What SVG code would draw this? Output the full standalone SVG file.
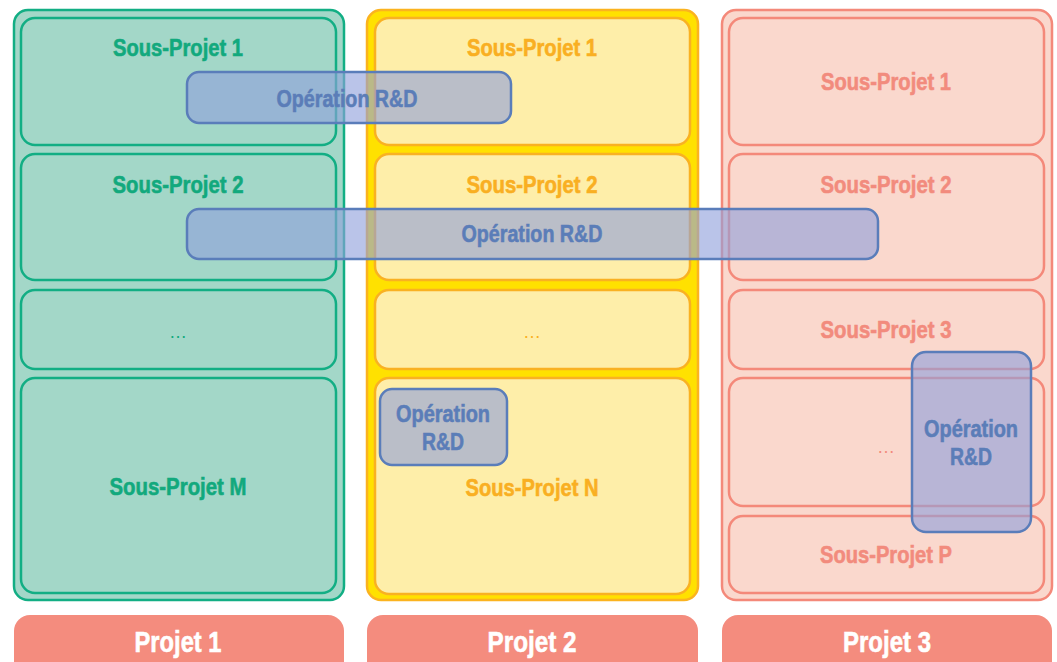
<svg xmlns="http://www.w3.org/2000/svg" width="1057" height="662" viewBox="0 0 1057 662">
<style>
text{font-family:"Liberation Sans",Arial,sans-serif;font-weight:bold;text-anchor:middle;stroke-width:0.6}
.lbl{font-size:24px}
.g-out{fill:#A3D7C8;stroke:#12AE84;stroke-width:2.5}
.g-in{fill:#A3D7C8;stroke:#12AE84;stroke-width:2.5}
.g-t{fill:#12A97D;stroke:#12A97D}
.y-out{fill:#FFE100;stroke:#FBB31F;stroke-width:2.5}
.y-in{fill:#FEEEA9;stroke:#F9B122;stroke-width:2.5}
.y-t{fill:#F9AF22;stroke:#F9AF22}
.r-out{fill:#FAD8CD;stroke:#F4897A;stroke-width:2.5}
.r-in{fill:#FAD8CD;stroke:#F4897A;stroke-width:2.5}
.r-t{fill:#F28B7D;stroke:#F28B7D}
.dots{font-size:18px;font-weight:normal;stroke:none}
.op{fill:#8FA0DC;fill-opacity:0.62;stroke:#5A7DBA;stroke-width:2.5}
.op-t{fill:#5B7DB8;stroke:#5B7DB8;font-size:24px}
.bar{fill:#F48C7E}
.bar-t{fill:#FFFFFF;stroke:#FFFFFF;font-size:29px}
</style>

<g id="projet1">
  <rect class="g-out" x="14" y="10" width="330" height="590" rx="14"/>
  <g id="p1-sp1"><rect class="g-in" x="21" y="18" width="315" height="127" rx="14"/>
    <text class="lbl g-t" x="178" y="56" textLength="130" lengthAdjust="spacingAndGlyphs">Sous-Projet 1</text></g>
  <g id="p1-sp2"><rect class="g-in" x="21" y="154" width="315" height="126" rx="14"/>
    <text class="lbl g-t" x="178" y="193" textLength="131" lengthAdjust="spacingAndGlyphs">Sous-Projet 2</text></g>
  <g id="p1-dots"><rect class="g-in" x="21" y="290" width="315" height="79" rx="14"/>
    <text class="dots g-t" x="178" y="338">…</text></g>
  <g id="p1-spm"><rect class="g-in" x="21" y="378" width="315" height="215" rx="14"/>
    <text class="lbl g-t" x="178" y="495" textLength="137" lengthAdjust="spacingAndGlyphs">Sous-Projet M</text></g>
</g>

<g id="projet2">
  <rect class="y-out" x="367" y="10" width="331" height="590" rx="14"/>
  <g id="p2-sp1"><rect class="y-in" x="375" y="18" width="315" height="127" rx="14"/>
    <text class="lbl y-t" x="532" y="56" textLength="130" lengthAdjust="spacingAndGlyphs">Sous-Projet 1</text></g>
  <g id="p2-sp2"><rect class="y-in" x="375" y="154" width="315" height="126" rx="14"/>
    <text class="lbl y-t" x="532" y="193" textLength="131" lengthAdjust="spacingAndGlyphs">Sous-Projet 2</text></g>
  <g id="p2-dots"><rect class="y-in" x="375" y="290" width="315" height="79" rx="14"/>
    <text class="dots y-t" x="532" y="338">…</text></g>
  <g id="p2-spn"><rect class="y-in" x="375" y="378" width="315" height="216" rx="14"/>
    <text class="lbl y-t" x="532" y="496" textLength="133" lengthAdjust="spacingAndGlyphs">Sous-Projet N</text></g>
</g>

<g id="projet3">
  <rect class="r-out" x="722" y="10" width="330" height="590" rx="14"/>
  <g id="p3-sp1"><rect class="r-in" x="729" y="18" width="315" height="127" rx="14"/>
    <text class="lbl r-t" x="886" y="90" textLength="130" lengthAdjust="spacingAndGlyphs">Sous-Projet 1</text></g>
  <g id="p3-sp2"><rect class="r-in" x="729" y="154" width="315" height="126" rx="14"/>
    <text class="lbl r-t" x="886" y="193" textLength="131" lengthAdjust="spacingAndGlyphs">Sous-Projet 2</text></g>
  <g id="p3-sp3"><rect class="r-in" x="729" y="290" width="315" height="79" rx="14"/>
    <text class="lbl r-t" x="886" y="338" textLength="131" lengthAdjust="spacingAndGlyphs">Sous-Projet 3</text></g>
  <g id="p3-dots"><rect class="r-in" x="729" y="378" width="315" height="128" rx="14"/>
    <text class="dots r-t" x="886" y="453">…</text></g>
  <g id="p3-spp"><rect class="r-in" x="729" y="516" width="315" height="77" rx="14"/>
    <text class="lbl r-t" x="886" y="563" textLength="132" lengthAdjust="spacingAndGlyphs">Sous-Projet P</text></g>
</g>

<g id="op1"><rect class="op" x="187" y="72" width="324" height="51" rx="12"/>
  <text class="op-t" x="347" y="107" textLength="141" lengthAdjust="spacingAndGlyphs">Opération R&amp;D</text></g>
<g id="op2"><rect class="op" x="187" y="209" width="691" height="50" rx="12"/>
  <text class="op-t" x="532" y="242" textLength="141" lengthAdjust="spacingAndGlyphs">Opération R&amp;D</text></g>
<g id="op3"><rect class="op" x="380" y="389" width="127" height="76" rx="12"/>
  <text class="op-t" x="443" y="422" textLength="94" lengthAdjust="spacingAndGlyphs">Opération</text>
  <text class="op-t" x="443" y="450" textLength="42" lengthAdjust="spacingAndGlyphs">R&amp;D</text></g>
<g id="op4"><rect class="op" x="912" y="352" width="119" height="180" rx="14"/>
  <text class="op-t" x="971" y="437" textLength="94" lengthAdjust="spacingAndGlyphs">Opération</text>
  <text class="op-t" x="971" y="465" textLength="42" lengthAdjust="spacingAndGlyphs">R&amp;D</text></g>

<g id="bar1"><rect class="bar" x="14" y="615" width="330" height="70" rx="16"/>
  <text class="bar-t" x="178" y="652" textLength="87" lengthAdjust="spacingAndGlyphs">Projet 1</text></g>
<g id="bar2"><rect class="bar" x="367" y="615" width="331" height="70" rx="16"/>
  <text class="bar-t" x="532" y="652" textLength="89" lengthAdjust="spacingAndGlyphs">Projet 2</text></g>
<g id="bar3"><rect class="bar" x="722" y="615" width="330" height="70" rx="16"/>
  <text class="bar-t" x="887" y="652" textLength="88" lengthAdjust="spacingAndGlyphs">Projet 3</text></g>

<g id="connectors"></g>
</svg>
